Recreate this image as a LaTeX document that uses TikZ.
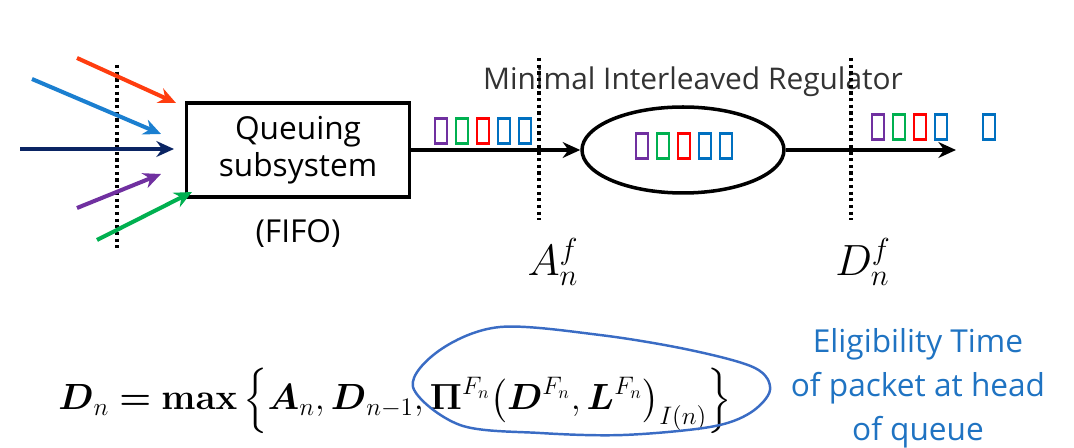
\documentclass[tikz,border=0pt]{standalone}
\usepackage{amsmath}
\usepackage[no-math]{fontspec}
\setmainfont{Open Sans}
\usetikzlibrary{arrows.meta,positioning,shapes.geometric}

\definecolor{pktpurple}{HTML}{7030A0}
\definecolor{pktgreen}{HTML}{00B050}
\definecolor{pktred}{HTML}{FF0000}
\definecolor{pktblue}{HTML}{0070C0}
\definecolor{flowred}{HTML}{FF3D0F}
\definecolor{flowblue}{HTML}{1B7FD0}
\definecolor{flownavy}{HTML}{0A2463}
\definecolor{noteblue}{HTML}{1F73C2}
\definecolor{loopblue}{HTML}{3A6CC4}

\begin{document}
\begin{tikzpicture}[x=0.02cm,y=-0.02cm,
 >={Stealth[length=10pt,width=9pt]},
 pkt/.style={draw=#1,line width=1.2pt,minimum width=0.24cm,minimum height=0.5cm,inner sep=0pt},
 flow/.style={->,line width=2.3pt,draw=#1,fill=#1},
 cut/.style={dotted,line width=1.8pt},
 txt/.style={font=\fontsize{18}{21}\selectfont}]

 \useasboundingbox (0,0) rectangle (1074,448);

 % queue and regulator
 \node[draw,line width=2pt,minimum width=4.46cm,minimum height=1.88cm,align=center,txt] (box) at (298,150) {Queuing\\subsystem};
 \node[txt] (fifo) [below=0.3cm of box] {(FIFO)};
 \node[draw,ellipse,line width=2pt,minimum width=4.04cm,minimum height=1.72cm] (mir) at (683,150) {};
 \node[font=\fontsize{17}{20}\selectfont,text=black!80] (mirlabel) at (693,82) {Minimal Interleaved Regulator};
 \coordinate (out) at (956,150);

 % observation points
 \coordinate (c1t) at (117,65);  \coordinate (c1b) at (117,250);
 \coordinate (c2t) at (539,58);  \coordinate (c2b) at (539,220);
 \coordinate (c3t) at (851,58);  \coordinate (c3b) at (851,220);
 \draw[cut] (c1t) -- (c1b);
 \draw[cut] (c2t) -- (c2b);
 \draw[cut] (c3t) -- (c3b);
 \node[font=\fontsize{23}{25}\selectfont] (arr) at (553,262) {$A_n^f$};
 \node[font=\fontsize{23}{25}\selectfont] (dep) at (863,262) {$D_n^f$};

 % incoming flows
 \coordinate (s1) at (77,58);   \coordinate (t1) at (176,103);
 \coordinate (s2) at (32,79);   \coordinate (t2) at (161,134);
 \coordinate (s3) at (20,149);  \coordinate (t3) at (174,149);
 \coordinate (s4) at (77,208);  \coordinate (t4) at (161,174);
 \coordinate (s5) at (97,240);  \coordinate (t5) at (192,192);
 \draw[flow=flowred] (s1) -- (t1);
 \draw[flow=flowblue] (s2) -- (t2);
 \draw[flow=flownavy] (s3) -- (t3);
 \draw[flow=pktpurple] (s4) -- (t4);
 \draw[flow=pktgreen] (s5) -- (t5);

 \draw[->,line width=2pt] (box) -- (mir);
 \draw[->,line width=2pt] (mir) -- (out);

 % packets
 \foreach \c [count=\i] in {pktpurple,pktgreen,pktred,pktblue,pktblue}
  \node[pkt=\c] (a\i) at ({441+21*(\i-1)},131) {};
 \foreach \c [count=\i] in {pktpurple,pktgreen,pktred,pktblue,pktblue}
  \node[pkt=\c] (m\i) at ({642+21*(\i-1)},146) {};
 \foreach \c [count=\i] in {pktpurple,pktgreen,pktred,pktblue}
  \node[pkt=\c] (d\i) at ({878+21*(\i-1)},127) {};
 \node[pkt=pktblue] (d5) at (989,127) {};

 % eligibility time
 \node[anchor=base west,inner sep=0pt,font=\fontsize{20}{22}\selectfont] (eq) at (58,410)
  {$\boldsymbol{D}_n \mathrel{\boldsymbol{=}} \mathbf{max}\left\{\boldsymbol{A}_n, \boldsymbol{D}_{n-1}, \boldsymbol{\Pi}^{F_n}\bigl(\boldsymbol{D}^{F_n}, \boldsymbol{L}^{F_n}\bigr)_{I(n)}\right\}$};
 \draw[loopblue,line width=1.4pt] plot[smooth cycle,tension=0.55] coordinates
  {(413,387) (440,350) (500,327) (600,335) (690,350) (755,368) (770,390) (750,413) (710,427) (623,435) (540,433) (460,425)};
 \node[text=noteblue,align=center,font=\fontsize{18}{25}\selectfont] (note) at (918,388)
  {Eligibility Time\\of packet at head\\of queue};
\end{tikzpicture}
\end{document}
